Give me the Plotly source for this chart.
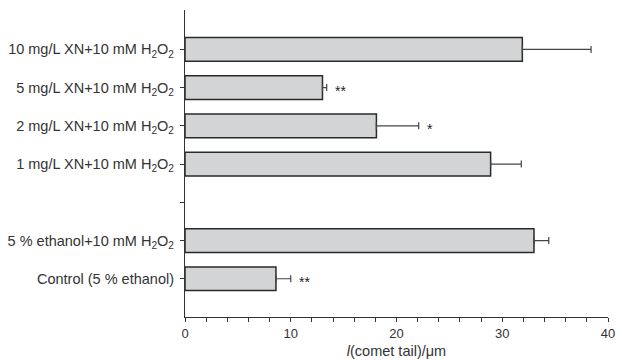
import plotly.graph_objects as go

categories = ["Control (5 % ethanol)", "5 % ethanol+10 mM H<sub>2</sub>O<sub>2</sub>", "",
              "1 mg/L XN+10 mM H<sub>2</sub>O<sub>2</sub>", "2 mg/L XN+10 mM H<sub>2</sub>O<sub>2</sub>",
              "5 mg/L XN+10 mM H<sub>2</sub>O<sub>2</sub>", "10 mg/L XN+10 mM H<sub>2</sub>O<sub>2</sub>"]
values = [8.6, 33.0, None, 28.9, 18.1, 13.0, 31.9]
errors = [1.4, 1.4, None, 2.9, 4.0, 0.4, 6.5]
marks = ["**", "", "", "", "*", "**", ""]

positions = list(range(len(categories)))
bar_idx = [i for i, v in enumerate(values) if v is not None]

fig = go.Figure()
fig.add_trace(go.Bar(
    x=[values[i] for i in bar_idx],
    y=[positions[i] for i in bar_idx],
    orientation="h",
    width=0.62,
    marker=dict(color="#d3d4d5", line=dict(color="#2a2a2a", width=1.5)),
    error_x=dict(type="data", array=[errors[i] for i in bar_idx], symmetric=False,
                 arrayminus=[0] * len(bar_idx), color="#444444", thickness=1.2, width=3.5),
    showlegend=False,
))

for i in bar_idx:
    if marks[i]:
        fig.add_annotation(x=values[i] + errors[i], y=positions[i], text=marks[i],
                           showarrow=False, xanchor="left", xshift=6, yshift=-3,
                           font=dict(size=14, color="#222222"))

fig.update_layout(
    width=617, height=361,
    margin=dict(l=185, r=9, t=10, b=44),
    plot_bgcolor="white", paper_bgcolor="white",
    font=dict(family="Liberation Sans, Arial, sans-serif", size=14, color="#333333"),
    bargap=0.38,
)
fig.update_xaxes(range=[0, 40], tickvals=[0, 10, 20, 30, 40], ticks="outside", ticklen=4,
                 tickcolor="#333333", showline=True, linecolor="#333333", linewidth=1.2,
                 showgrid=False, zeroline=False, tickfont=dict(size=13), ticklabeloverflow="allow",
                 automargin=False,
                 minor=dict(tickvals=list(range(0, 41, 2)), ticks="outside", ticklen=4, tickcolor="#333333"),
                 title=dict(text="<i>l</i>(comet tail)/μm", font=dict(size=14.5), standoff=6))
fig.update_yaxes(range=[-1, 7.03], tickvals=positions, ticktext=categories, ticks="outside",
                 ticklen=4, tickcolor="#333333", showline=True, linecolor="#333333", linewidth=1.2,
                 showgrid=False, zeroline=False, tickfont=dict(size=14.5), ticklabelstandoff=3,
                 automargin=False)

fig.write_html("out.html")
